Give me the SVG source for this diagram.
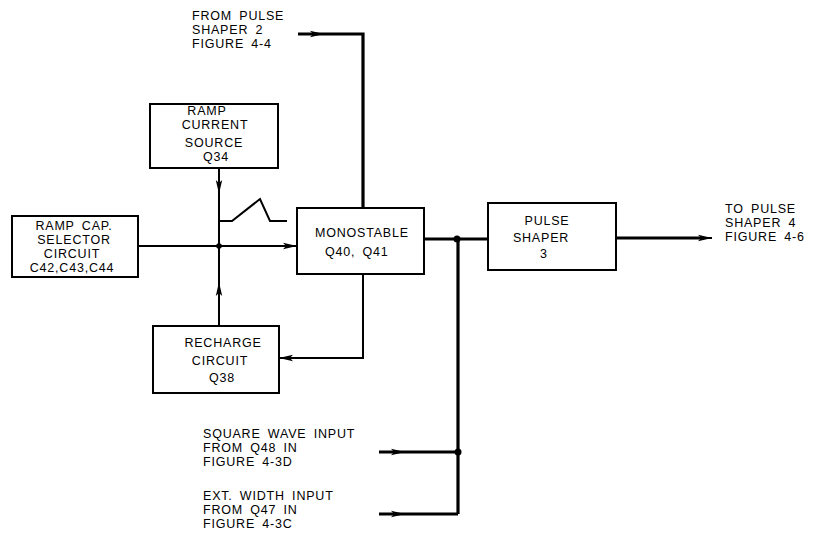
<svg xmlns="http://www.w3.org/2000/svg" width="815" height="541" viewBox="0 0 815 541">
<defs>
<style>
.box{fill:#fff;stroke:#000;stroke-width:2}
.t{font-family:"Liberation Sans",Arial,sans-serif;font-size:12.5px;fill:#000;word-spacing:3px;letter-spacing:0.8px}
.c{text-anchor:middle}
.w{fill:none;stroke:#000;stroke-width:2}
.k{fill:none;stroke:#000;stroke-width:3.2}
.ah{fill:#000;stroke:none}
.dot{fill:#000}
</style>
<marker id="arr" viewBox="0 0 14 8" refX="14" refY="4" markerWidth="14" markerHeight="8" markerUnits="userSpaceOnUse" orient="auto">
<path d="M0,0.8 L14,4 L0,7.2 L3,4 Z" class="ah"/>
</marker>
</defs>
<rect width="815" height="541" fill="#fff"/>

<g id="connectors">
<path class="k" d="M298,34 H363 V208"/>
<path class="w" d="M298,34 H324" marker-end="url(#arr)"/>
<path class="w" d="M138,246 H297" marker-end="url(#arr)"/>
<path class="w" d="M219,168 V326"/>
<path class="w" d="M219,168 V194" marker-end="url(#arr)"/>
<path class="w" d="M219,326 V282" marker-end="url(#arr)"/>
<circle class="dot" cx="219" cy="246" r="2.8"/>
<path class="w" d="M219,221 H232 L260,199 L270,221 H287"/>
<path class="w" d="M363,274 V358 H279" marker-end="url(#arr)"/>
<path class="k" d="M424,239 H488"/>
<circle class="dot" cx="457" cy="239" r="3.5"/>
<path class="k" d="M458,239 V514"/>
<path class="k" d="M379,452 H458"/>
<path class="w" d="M379,452 H405" marker-end="url(#arr)"/>
<circle class="dot" cx="458" cy="452" r="3.5"/>
<path class="k" d="M379,514 H458"/>
<path class="w" d="M379,514 H405" marker-end="url(#arr)"/>
<path class="k" d="M616,238 H700"/>
<path class="w" d="M690,238 H712" marker-end="url(#arr)"/>
</g>

<g id="ramp-current-source">
<rect class="box" x="150" y="104" width="128" height="64"/>
<text class="t c" x="207" y="115">RAMP</text>
<text class="t c" x="215" y="129">CURRENT</text>
<text class="t c" x="214" y="147">SOURCE</text>
<text class="t c" x="216" y="161">Q34</text>
</g>

<g id="ramp-cap-selector">
<rect class="box" x="12" y="216" width="126" height="61"/>
<text class="t c" x="74" y="230">RAMP CAP.</text>
<text class="t c" x="74" y="244">SELECTOR</text>
<text class="t c" x="72" y="258">CIRCUIT</text>
<text class="t c" x="72" y="272">C42,C43,C44</text>
</g>

<g id="monostable">
<rect class="box" x="297" y="208" width="127" height="66"/>
<text class="t" x="315" y="237">MONOSTABLE</text>
<text class="t" x="325" y="256">Q40, Q41</text>
</g>

<g id="recharge-circuit">
<rect class="box" x="153" y="326" width="126" height="67"/>
<text class="t c" x="223" y="347">RECHARGE</text>
<text class="t c" x="220" y="365">CIRCUIT</text>
<text class="t c" x="222" y="382">Q38</text>
</g>

<g id="pulse-shaper-3">
<rect class="box" x="488" y="203" width="128" height="67"/>
<text class="t c" x="547" y="225">PULSE</text>
<text class="t c" x="541" y="242">SHAPER</text>
<text class="t c" x="544" y="258">3</text>
</g>

<g id="from-pulse-shaper-2">
<text class="t" x="192" y="20">FROM PULSE</text>
<text class="t" x="192" y="34">SHAPER 2</text>
<text class="t" x="192" y="48">FIGURE 4-4</text>
</g>

<g id="to-pulse-shaper-4">
<text class="t" x="725" y="213">TO PULSE</text>
<text class="t" x="725" y="227">SHAPER 4</text>
<text class="t" x="725" y="241">FIGURE 4-6</text>
</g>

<g id="square-wave-input">
<text class="t" x="203" y="438">SQUARE WAVE INPUT</text>
<text class="t" x="203" y="452">FROM Q48 IN</text>
<text class="t" x="203" y="466">FIGURE 4-3D</text>
</g>

<g id="ext-width-input">
<text class="t" x="203" y="500">EXT. WIDTH INPUT</text>
<text class="t" x="203" y="514">FROM Q47 IN</text>
<text class="t" x="203" y="528">FIGURE 4-3C</text>
</g>
</svg>
